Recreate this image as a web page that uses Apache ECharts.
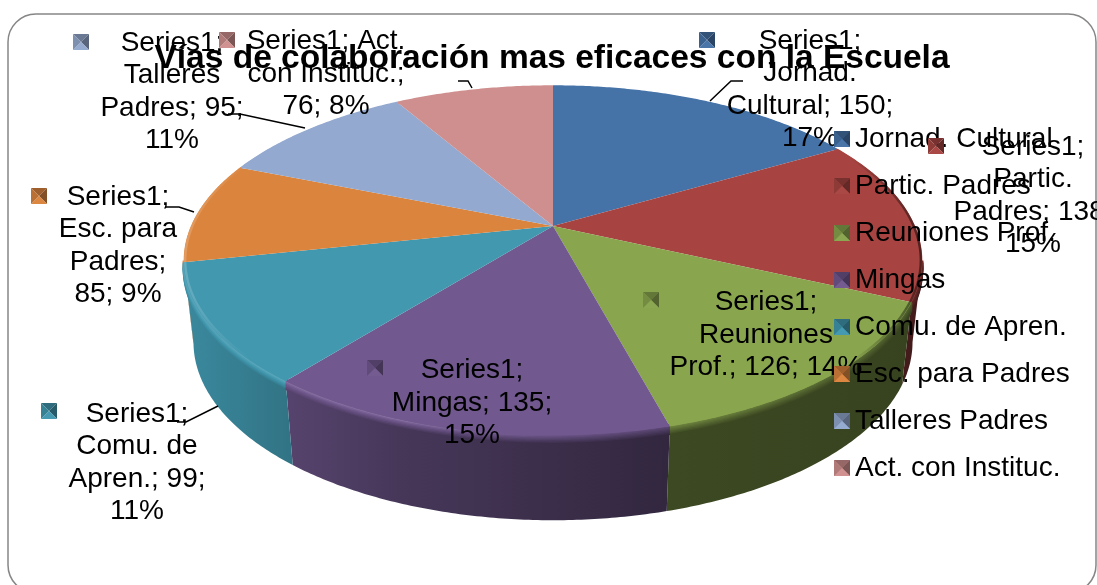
<!DOCTYPE html>
<html>
<head>
<meta charset="utf-8">
<style>html,body{margin:0;padding:0;background:#fff;overflow:hidden}#c{width:1097px;height:585px}</style>
<script src="https://cdn.jsdelivr.net/npm/echarts@6/dist/echarts.min.js"></script>
</head>
<body>
<div id="c"></div>
<script>
const titleText = 'Vías de colaboración mas eficaces con la Escuela';
const categories = ['Jornad. Cultural','Partic. Padres','Reuniones Prof.','Mingas','Comu. de Apren.','Esc. para Padres','Talleres Padres','Act. con Instituc.'];
const values = [150,138,126,135,99,85,95,76];
const colors = ['#4572A7','#A74441','#89A54E','#71588F','#4198AF','#DB843D','#93A9CF','#CF8F8E'];
const labelTexts = [
  'Series1;\nJornad.\nCultural; 150;\n17%',
  'Series1;\nPartic.\nPadres; 138;\n15%',
  'Series1;\nReuniones\nProf.; 126; 14%',
  'Series1;\nMingas; 135;\n15%',
  'Series1;\nComu. de\nApren.; 99;\n11%',
  'Series1;\nEsc. para\nPadres;\n85; 9%',
  'Series1;\nTalleres\nPadres; 95;\n11%',
  'Series1; Act.\ncon Instituc.;\n76; 8%'
];
// layout only: label centre, key-marker centre, leader line
const labelLayout = [
  {x:810,y:90,key:[707,40],line:[[710,101],[731,81],[743,81]]},
  {x:1033,y:196,key:[936,146],line:null},
  {x:766,y:335,key:[651,300],line:null},
  {x:472,y:403,key:[375,368],line:null},
  {x:137,y:463,key:[49,411],line:[[218,406],[186,422],[177,422]]},
  {x:118,y:246,key:[39,196],line:[[194,212],[179,207],[165,207]]},
  {x:172,y:92,key:[81,42],line:[[305,128],[240,114],[228,114]]},
  {x:326,y:74,key:[227,40],line:[[458,81],[468,81],[472,88]]}
];
const FONT = '"Liberation Sans", Arial, sans-serif';
const total = values.reduce((a,b)=>a+b,0);
const starts = []; values.reduce((acc,v,i)=>{starts[i]=acc;return acc+v;},0);

// perspective projection of the pie disc
const K = 0.198, APEX_X = 553;
const TOP = {rx:362, ry:167.7, cy:226};
const BOT = {rx:352.4, ry:171, cy:307};
function project(th, ring, r){
  r = r===undefined?1:r;
  const u=Math.sin(th)*r, v=-Math.cos(th)*r, d=1-K*v;
  return [APEX_X+ring.rx*u/d, ring.cy+ring.ry*v/d];
}
const VIS_A = 101.4*Math.PI/180, VIS_B = 258.6*Math.PI/180;
function arc(a,b,ring,r){
  const n=Math.max(2,Math.ceil((b-a)/0.01)), pts=[];
  for(let i=0;i<=n;i++) pts.push(project(a+(b-a)*i/n,ring,r));
  return pts;
}
function rgb(hex){return [1,3,5].map(i=>parseInt(hex.substr(i,2),16));}
function scale(hex,f){
  const c=rgb(hex).map(v=>Math.max(0,Math.min(255,Math.round(f>1? v+(255-v)*(f-1)*1.1 : v*f))));
  return `rgb(${c[0]},${c[1]},${c[2]})`;
}
const X0=183,X1=925;
const sideStops=[[183,.9],[290,.76],[400,.62],[550,.52],[670,.44],[925,.40]];
const hiStops=[[183,1.1],[290,1.12],[400,1.12],[550,.95],[670,.8],[925,.55]];
function grad(hex,stops,mixTo,t){
  return new echarts.graphic.LinearGradient(X0,0,X1,0,stops.map((s,i)=>{
    const f = mixTo? s[1]*(1-t)+mixTo[i][1]*t : s[1];
    return {offset:(s[0]-X0)/(X1-X0),color:scale(hex,f)};
  }),true);
}
function renderSlice(idx){
  return function(params,api){
    const a=starts[idx]/total*2*Math.PI, b=a+api.value(0)/total*2*Math.PI;
    const col=colors[idx], ch=[];
    const sa=Math.max(a,VIS_A), sb=Math.min(b,VIS_B);
    if(sb>sa){
      const t=arc(sa,sb,TOP), l=arc(sa,sb,BOT);
      ch.push({type:'polygon',z2:1,shape:{points:t.concat(l.slice().reverse())},style:{fill:grad(col,sideStops)}});
      const N=6;
      for(let j=N;j>=0;j--){
        const pts=t.map(p=>[p[0],p[1]+j*1.3]);
        ch.push({type:'polyline',z2:2+(N-j)*0.1,shape:{points:pts},
          style:{fill:null,stroke:grad(col,hiStops,sideStops,j/N),lineWidth:2.2}});
      }
    }
    ch.push({type:'polygon',z2:4,shape:{points:[project(0,TOP,0)].concat(arc(a,b,TOP))},style:{fill:col}});
    ch.push({type:'polyline',z2:5,shape:{points:arc(a,b,TOP,0.996)},style:{fill:null,lineWidth:2.4,
      stroke:new echarts.graphic.LinearGradient(X0,0,X1,0,[
        {offset:0,color:scale(col,1.18)},{offset:.09,color:col},{offset:.9,color:col},{offset:1,color:scale(col,.45)}],true)}});
    const L=labelLayout[idx];
    if(L.line) ch.push({type:'polyline',z2:8,shape:{points:L.line},style:{fill:null,stroke:'#000',lineWidth:1.5}});
    ch.push({type:'text',z2:10,style:{text:labelTexts[idx],x:L.x,y:L.y,align:'center',verticalAlign:'middle',
      fill:'#000',font:'28px '+FONT,lineHeight:32.5}});
    return {type:'group',children:ch};
  };
}
// pyramid key markers
function pyramid(cx,cy,col){
  const w=8,h=8,c=[cx,cy];
  const A=[cx-w,cy-h],B=[cx+w,cy-h],C=[cx+w,cy+h],D=[cx-w,cy+h];
  const face=(p,f)=>({type:'polygon',z:50,silent:true,shape:{points:p},style:{fill:scale(col,f)}});
  return [face([A,B,c],.72),face([B,C,c],.6),face([C,D,c],1.02),face([D,A,c],.85)];
}
const graphics=[{type:'rect',z:-1,silent:true,shape:{x:8,y:14,width:1088,height:579,r:28},style:{fill:null,stroke:'#868686',lineWidth:1.5}}];
colors.forEach((c,i)=>{
  graphics.push(...pyramid(842,139+47*i,c));
  graphics.push(...pyramid(labelLayout[i].key[0],labelLayout[i].key[1],c));
});
const chart=echarts.init(document.getElementById('c'),null,{renderer:'canvas'});
chart.setOption({
  animation:false,
  backgroundColor:'#fff',
  color:colors,
  title:{text:titleText,left:547,top:35,textAlign:'center',textStyle:{fontFamily:FONT,fontWeight:'bold',fontSize:33.5,color:'#000',lineHeight:38}},
  legend:{orient:'vertical',left:834,top:125,padding:0,itemWidth:16,itemHeight:16,itemGap:19,icon:'rect',selectedMode:false,
    data:categories,textStyle:{fontFamily:FONT,fontSize:28,color:'#000'}},
  graphic:graphics,
  series:categories.map((name,i)=>({type:'custom',name,coordinateSystem:'none',silent:true,clip:false,
    renderItem:renderSlice(i),data:[[values[i]]]}))
});
</script>
</body>
</html>
